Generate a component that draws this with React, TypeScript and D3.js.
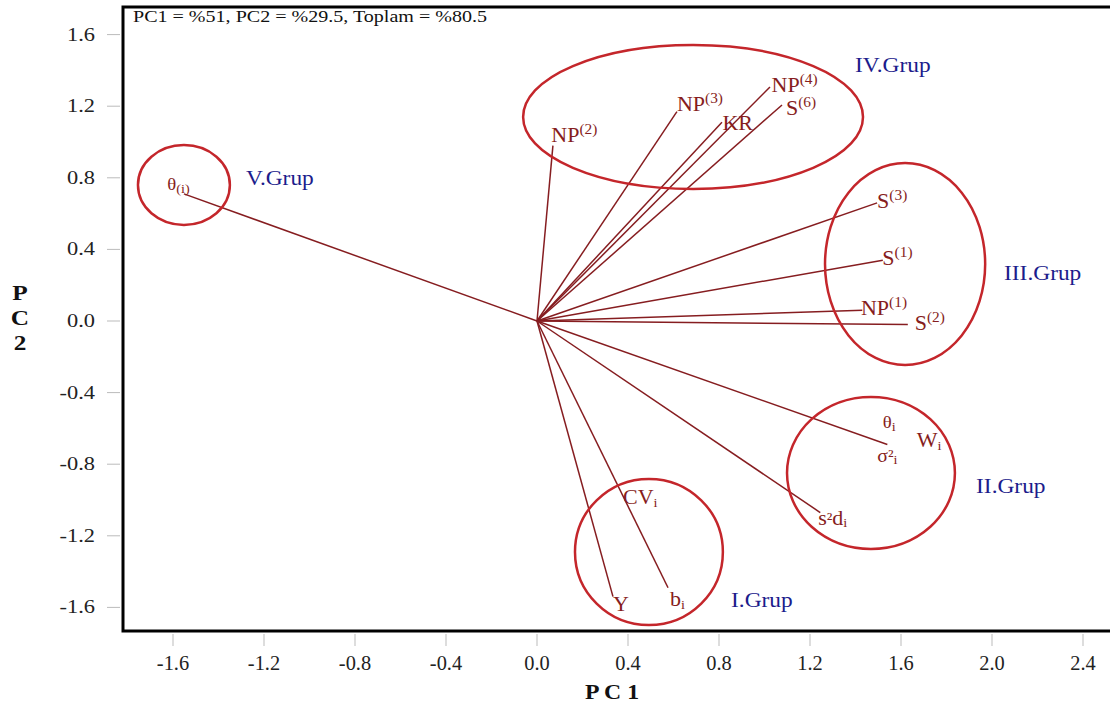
import React from "react";
import * as d3 from "d3";

const xTicks = [-1.6, -1.2, -0.8, -0.4, 0.0, 0.4, 0.8, 1.2, 1.6, 2.0, 2.4];
const yTicks = [1.6, 1.2, 0.8, 0.4, 0.0, -0.4, -0.8, -1.2, -1.6];

// Vector loadings (PC1, PC2)
const vectorNames = ["θ(i)", "NP(2)", "NP(3)", "KR", "NP(4)", "S(6)", "S(3)", "S(1)", "NP(1)", "S(2)", "σ²i", "s²di", "Y", "bi"];
const vectorPC1 = [-1.552, 0.07, 0.615, 0.813, 1.024, 1.077, 1.495, 1.52, 1.43, 1.63, 1.54, 1.245, 0.334, 0.576];
const vectorPC2 = [0.71, 0.98, 1.17, 1.11, 1.307, 1.207, 0.66, 0.34, 0.06, -0.02, -0.69, -1.07, -1.54, -1.49];

// Label texts
const labelMain = ["θ", "NP", "NP", "KR", "NP", "S", "S", "S", "NP", "S", "σ", "s", "Y", "b", "θ", "W", "CV"];
const labelScript = ["(i)", "(2)", "(3)", "", "(4)", "(6)", "(3)", "(1)", "(1)", "(2)", "²i", "²di", "", "i", "i", "i", "i"];
// label anchor positions in data units (PC1, PC2)
const labelPC1 = [-1.625, 0.063, 0.615, 0.815, 1.031, 1.094, 1.495, 1.518, 1.424, 1.66, 1.496, 1.236, 0.334, 0.585, 1.52, 1.669, 0.378];
const labelPC2 = [0.733, 1.0, 1.173, 1.067, 1.279, 1.151, 0.632, 0.313, 0.034, -0.05, -0.787, -1.14, -1.62, -1.59, -0.6, -0.706, -1.02];

// Group ellipses (center and radii in data units)
const groupNames = ["V.Grup", "IV.Grup", "III.Grup", "II.Grup", "I.Grup"];
const groupCX = [-1.552, 0.686, 1.618, 1.468, 0.492];
const groupCY = [0.76, 1.14, 0.318, -0.849, -1.29];
const groupRX = [0.202, 0.747, 0.352, 0.369, 0.325];
const groupRY = [0.223, 0.402, 0.564, 0.425, 0.408];
const groupLabelPC1 = [-1.279, 1.398, 2.053, 1.930, 0.853];
const groupLabelPC2 = [0.76, 1.39, 0.23, -0.96, -1.6];

const W = 1110;
const H = 715;
const frame = { left: 123, top: 7, right: 1113, bottom: 631 };

const sx = (x0: number, k: number) => `translate(${x0},0) scale(${k},1) translate(${-x0},0)`;

export default function App() {
  const x = d3.scaleLinear().domain([0, 1]).range([537, 537 + 227.5]);
  const y = d3.scaleLinear().domain([0, 1]).range([321, 321 - 179]);
  const lineColor = "#861d20";
  const ellColor = "#c4262b";
  const labelColor = "#861d20";
  const groupColor = "#1c1c8c";
  const font = "'Liberation Serif', 'Times New Roman', serif";

  return (
    <svg
      width={W}
      height={H}
      style={{ position: "absolute", left: 0, top: 0, background: "#fff" }}
      fontFamily={font}
    >
      <rect x={0} y={0} width={W} height={H} fill="#fff" />
      {/* ticks */}
      {yTicks.map((t) => (
        <g key={"y" + t}>
          <line x1={107} x2={120} y1={y(t)} y2={y(t)} stroke="#bbb" strokeWidth={1} />
          <text x={95} y={y(t) + 6} textAnchor="end" fontSize={19} fill="#222" transform={sx(95, 1.18)}>
            {t.toFixed(1)}
          </text>
        </g>
      ))}
      {xTicks.map((t) => (
        <g key={"x" + t}>
          <line x1={x(t)} x2={x(t)} y1={634} y2={646} stroke="#bbb" strokeWidth={1} />
          <text x={x(t)} y={670} textAnchor="middle" fontSize={20} fill="#222" transform={sx(x(t), 1.02)}>
            {t.toFixed(1)}
          </text>
        </g>
      ))}
      {/* axis titles */}
      <text x={612} y={699} textAnchor="middle" fontSize={22} fontWeight="bold" fill="#111" transform={sx(612, 1.08)}>
        P C 1
      </text>
      {["P", "C", "2"].map((c, i) => (
        <text key={c} x={20} y={300 + i * 25} textAnchor="middle" fontSize={22} fontWeight="bold" fill="#111" transform={sx(20, 1.15)}>
          {c}
        </text>
      ))}

      {/* vectors */}
      {vectorNames.map((n, i) => (
        <line
          key={n}
          x1={x(0)}
          y1={y(0)}
          x2={x(vectorPC1[i])}
          y2={y(vectorPC2[i])}
          stroke={lineColor}
          strokeWidth={1.5}
        />
      ))}

      {/* ellipses */}
      {groupNames.map((g, i) => (
        <ellipse
          key={g}
          cx={x(groupCX[i])}
          cy={y(groupCY[i])}
          rx={x(groupRX[i]) - x(0)}
          ry={y(0) - y(groupRY[i])}
          fill="none"
          stroke={ellColor}
          strokeWidth={2.5}
        />
      ))}

      {/* vector labels */}
      {labelMain.map((m, i) => {
        const s = labelScript[i];
        const isSub = s === "i" || s === "(i)";
        const isSq = s.startsWith("²");
        const mainSize = m === "θ" ? 17 : m === "σ" ? 18 : 20;
        const lx = x(labelPC1[i]);
        return (
          <text key={i} x={lx} y={y(labelPC2[i])} fontSize={mainSize} fill={labelColor} transform={sx(lx, 1.1)}>
            {m}
            {s && isSq ? (
              <>
                <tspan fontSize={17}>²</tspan>
                {s.length > 2 ? <tspan fontSize={20}>{s.slice(1, s.length - 1)}</tspan> : null}
                <tspan fontSize={13} dy={2}>i</tspan>
              </>
            ) : s ? (
              <tspan fontSize={isSub ? 13 : 14} dy={isSub ? 3 : -8}>{s}</tspan>
            ) : null}
          </text>
        );
      })}

      {/* group labels */}
      {groupNames.map((g, i) => {
        const gx = x(groupLabelPC1[i]);
        return (
          <text key={g} x={gx} y={y(groupLabelPC2[i])} fontSize={20} fill={groupColor} transform={sx(gx, 1.17)}>
            {g}
          </text>
        );
      })}

      {/* frame */}
      <rect
        x={frame.left}
        y={frame.top}
        width={frame.right - frame.left}
        height={frame.bottom - frame.top}
        fill="none"
        stroke="#000"
        strokeWidth={3}
      />
      <text x={133} y={22} fontSize={16} fill="#111" textLength={354} lengthAdjust="spacingAndGlyphs">
        PC1 = %51, PC2 = %29.5, Toplam = %80.5
      </text>
    </svg>
  );
}
